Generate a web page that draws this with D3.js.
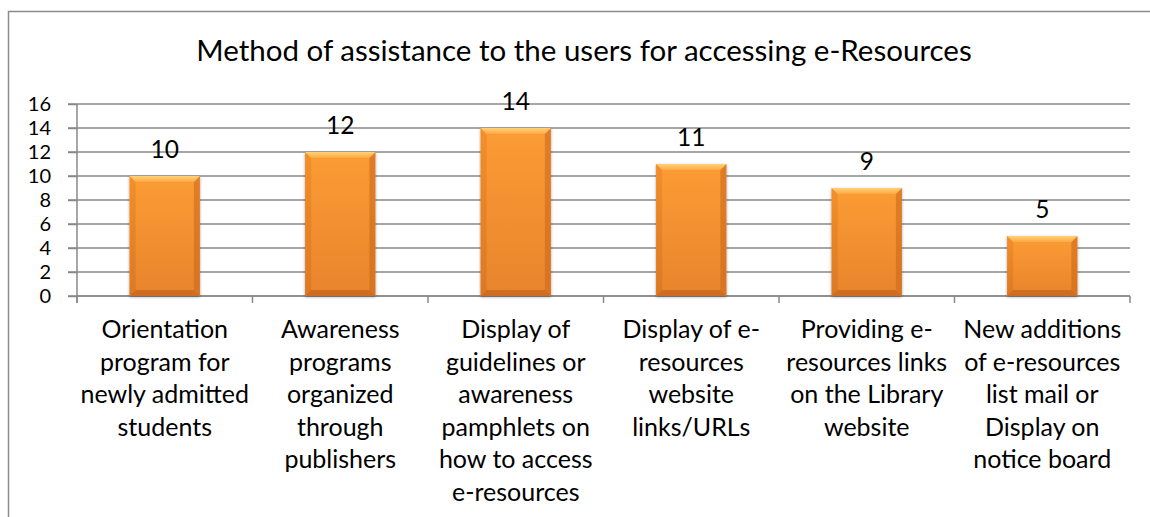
<!DOCTYPE html>
<html>
<head>
<meta charset="utf-8">
<script src="https://cdn.jsdelivr.net/npm/d3@7"></script>
<style>
  html, body { margin: 0; padding: 0; background: #fff; }
  svg { display: block; font-family: Lato, "Open Sans", sans-serif; }
</style>
</head>
<body>
<svg id="chart" width="1150" height="517"></svg>
<script>
// Chart content
const chartTitle = "Method of assistance to the users for accessing e-Resources";
const categories = [
  "Orientation\nprogram for\nnewly admitted\nstudents",
  "Awareness\nprograms\norganized\nthrough\npublishers",
  "Display of\nguidelines or\nawareness\npamphlets on\nhow to access\ne-resources",
  "Display of e-\nresources\nwebsite\nlinks/URLs",
  "Providing e-\nresources links\non the Library\nwebsite",
  "New additions\nof e-resources\nlist mail or\nDisplay on\nnotice board"
];
const values = [10, 12, 14, 11, 9, 5];
const yTicks = [0, 2, 4, 6, 8, 10, 12, 14, 16];

const svg = d3.select("#chart");

// Plot area
const plot = { left: 77, right: 1130, top: 104, bottom: 296 };

const x = d3.scaleBand()
  .domain(d3.range(categories.length))
  .range([plot.left, plot.right])
  .padding(0);

const y = d3.scaleLinear()
  .domain([0, 16])
  .range([plot.bottom, plot.top]);

const barW = x.bandwidth() * 0.4;

// Gradients and shadow
const defs = svg.append("defs");
const body = defs.append("linearGradient").attr("id", "barBody")
  .attr("x1", 0).attr("y1", 0).attr("x2", 0).attr("y2", 1);
body.append("stop").attr("offset", "0%").attr("stop-color", "#FC9C34");
body.append("stop").attr("offset", "100%").attr("stop-color", "#E8842C");

const side = defs.append("linearGradient").attr("id", "barSide")
  .attr("x1", 0).attr("y1", 0).attr("x2", 0).attr("y2", 1);
side.append("stop").attr("offset", "0%").attr("stop-color", "#F08A26");
side.append("stop").attr("offset", "100%").attr("stop-color", "#D87422");

const topFace = defs.append("linearGradient").attr("id", "barTop")
  .attr("x1", 0).attr("y1", 0).attr("x2", 0).attr("y2", 1);
topFace.append("stop").attr("offset", "0%").attr("stop-color", "#FFD27A");
topFace.append("stop").attr("offset", "100%").attr("stop-color", "#FDA943");

const shadow = defs.append("filter").attr("id", "barShadow")
  .attr("x", "-20%").attr("y", "-20%").attr("width", "140%").attr("height", "140%");
shadow.append("feDropShadow")
  .attr("dx", 0).attr("dy", 1).attr("stdDeviation", 1.5)
  .attr("flood-color", "#000").attr("flood-opacity", 0.35);

// Outer chart frame
svg.append("rect")
  .attr("x", 8.5).attr("y", 11.5)
  .attr("width", 1152).attr("height", 560)
  .attr("fill", "#fff")
  .attr("stroke", "#8c8c8c").attr("stroke-width", 1.5);

// Title
svg.append("text")
  .attr("x", 584).attr("y", 61)
  .attr("text-anchor", "middle")
  .attr("font-size", 29.5)
  .attr("fill", "#000")
  .text(chartTitle);

// Horizontal gridlines
svg.append("g")
  .selectAll("line")
  .data(yTicks)
  .join("line")
  .attr("x1", plot.left - 9).attr("x2", plot.right)
  .attr("y1", d => y(d)).attr("y2", d => y(d))
  .attr("stroke", "#888").attr("stroke-width", 1.5);

// Y axis
const yAxis = svg.append("g")
  .attr("transform", `translate(${plot.left},0)`)
  .call(d3.axisLeft(y).tickValues(yTicks).tickSize(9).tickPadding(17));
yAxis.select(".domain").remove();
yAxis.selectAll(".tick line").attr("stroke", "#888").attr("stroke-width", 1.5);
yAxis.selectAll(".tick text")
  .attr("font-family", "Lato, 'Open Sans', sans-serif")
  .attr("font-size", 20)
  .attr("fill", "#000");
svg.append("line")
  .attr("x1", plot.left).attr("x2", plot.left)
  .attr("y1", plot.top).attr("y2", plot.bottom + 7)
  .attr("stroke", "#888").attr("stroke-width", 1.5);

// X axis with category boundary ticks
const bounds = d3.range(categories.length + 1).map(i =>
  i < categories.length ? x(i) : x(categories.length - 1) + x.bandwidth());
svg.append("line")
  .attr("x1", plot.left).attr("x2", plot.right)
  .attr("y1", plot.bottom).attr("y2", plot.bottom)
  .attr("stroke", "#888").attr("stroke-width", 1.5);
svg.append("g")
  .selectAll("line")
  .data(bounds)
  .join("line")
  .attr("x1", d => d).attr("x2", d => d)
  .attr("y1", plot.bottom).attr("y2", plot.bottom + 7)
  .attr("stroke", "#888").attr("stroke-width", 1.5);

// Bevelled bars
const bevel = 6;
const bars = svg.append("g")
  .selectAll("g")
  .data(values)
  .join("g")
  .attr("filter", "url(#barShadow)")
  .attr("transform", (d, i) => `translate(${x(i) + (x.bandwidth() - barW) / 2},${y(d)})`);

bars.append("rect")
  .attr("width", barW)
  .attr("height", d => y(0) - y(d))
  .attr("fill", "url(#barBody)");

// left and right bevel faces
bars.append("polygon")
  .attr("points", d => {
    const h = y(0) - y(d);
    return `0,0 ${bevel},${bevel} ${bevel},${h - bevel} 0,${h}`;
  })
  .attr("fill", "url(#barSide)").attr("opacity", 0.75);
bars.append("polygon")
  .attr("points", d => {
    const h = y(0) - y(d);
    return `${barW},0 ${barW - bevel},${bevel} ${barW - bevel},${h - bevel} ${barW},${h}`;
  })
  .attr("fill", "#C9661C").attr("opacity", 0.55);
// top bevel face
bars.append("polygon")
  .attr("points", `0,0 ${barW},0 ${barW - bevel},${bevel} ${bevel},${bevel}`)
  .attr("fill", "url(#barTop)");
// bottom bevel face
bars.append("polygon")
  .attr("points", d => {
    const h = y(0) - y(d);
    return `0,${h} ${barW},${h} ${barW - bevel},${h - bevel} ${bevel},${h - bevel}`;
  })
  .attr("fill", "#C8661E").attr("opacity", 0.8);

// Value labels
svg.append("g")
  .selectAll("text")
  .data(values)
  .join("text")
  .attr("x", (d, i) => x(i) + x.bandwidth() / 2)
  .attr("y", d => y(d) - 18)
  .attr("text-anchor", "middle")
  .attr("font-size", 24.5)
  .attr("fill", "#000")
  .text(d => d);

// Category labels
const catLabels = svg.append("g")
  .selectAll("text")
  .data(categories)
  .join("text")
  .attr("x", (d, i) => x(i) + x.bandwidth() / 2)
  .attr("y", 338)
  .attr("text-anchor", "middle")
  .attr("font-size", 25)
  .attr("fill", "#000");
catLabels.selectAll("tspan")
  .data(d => d.split("\n"))
  .join("tspan")
  .attr("x", function () { return d3.select(this.parentNode).attr("x"); })
  .attr("dy", (d, i) => i === 0 ? 0 : 32.5)
  .text(d => d);
</script>
</body>
</html>
